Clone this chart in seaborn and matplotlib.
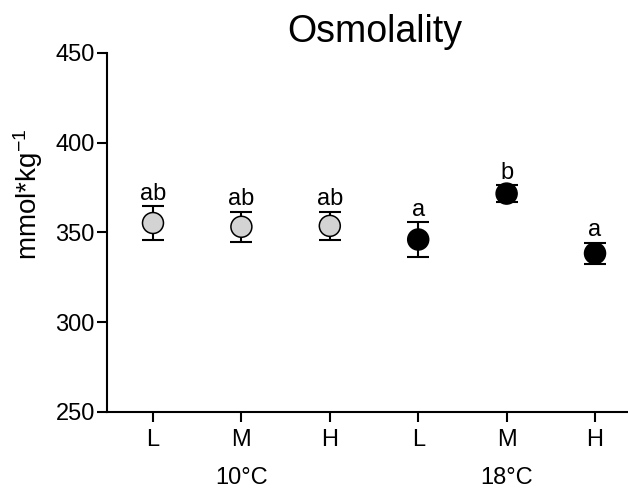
import numpy as np
import pandas as pd
import matplotlib
matplotlib.use("Agg")
import matplotlib.pyplot as plt
import matplotlib.transforms as mtransforms
import seaborn as sns

# ---- data ----
levels = ["L", "M", "H", "L", "M", "H"]
temps = ["10°C", "10°C", "10°C", "18°C", "18°C", "18°C"]
means = [355.2, 353.1, 353.6, 346.0, 371.6, 338.3]
sem = [9.3, 8.4, 8.0, 9.5, 4.8, 6.0]
letters = ["ab", "ab", "ab", "a", "b", "a"]
group_names = ["10°C", "18°C"]
title = "Osmolality"
ylabel = "mmol*kg$^{-1}$"
yticks = [250, 300, 350, 400, 450]

sns.set_theme(style="ticks")
plt.rcParams["font.family"] = ["Liberation Sans", "DejaVu Sans"]
plt.rcParams["mathtext.fontset"] = "custom"
plt.rcParams["mathtext.rm"] = "Liberation Sans"
plt.rcParams["mathtext.it"] = "Liberation Sans"
plt.rcParams["mathtext.default"] = "regular"
plt.rcParams["text.color"] = "black"
plt.rcParams["axes.labelcolor"] = "black"

df = pd.DataFrame({"level": levels, "temp": temps, "mean": means, "sem": sem})
df["pos"] = np.arange(len(df))

fig = plt.figure(figsize=(6.28, 4.88), dpi=100)
ax = fig.add_axes([0.1704, 0.1564, 0.8296, 0.735])

ax.errorbar(df["pos"], df["mean"], yerr=df["sem"], fmt="none", ecolor="black",
            elinewidth=1.5, capsize=8, capthick=1.5, zorder=2)
sns.scatterplot(data=df, x="pos", y="mean", hue="temp",
                palette={"10°C": "#d3d3d3", "18°C": "black"},
                s=228, edgecolor="black", linewidth=1.1, legend=False,
                zorder=3, ax=ax)

for p, m, e, t in zip(df["pos"], df["mean"], df["sem"], letters):
    ax.annotate(t, (p, m + e), xytext=(0, 4.5), textcoords="offset points",
                ha="center", va="baseline", fontsize=17, color="black")

ax.set_xlim(-0.52, 5.373)
ax.set_ylim(250, 450)
ax.set_yticks(yticks)
ax.set_xticks(df["pos"])
ax.set_xticklabels(levels)
ax.set_xlabel("")
ax.set_ylabel(ylabel, fontsize=20, color="black")
ax.yaxis.set_label_coords(-0.119, 0.607)

sns.despine(ax=ax)
for s in ["left", "bottom"]:
    ax.spines[s].set_linewidth(1.5)
    ax.spines[s].set_color("black")
ax.tick_params(axis="both", length=7.2, width=1.5, colors="black",
               labelsize=17, direction="out")
ax.tick_params(axis="y", pad=1.5)
ax.tick_params(axis="x", pad=5.5)

trans = mtransforms.blended_transform_factory(ax.transData, ax.transAxes)
for g in group_names:
    gpos = df.loc[df["temp"] == g, "pos"].mean()
    ax.text(gpos, -0.2016, g, transform=trans, ha="center", va="baseline",
            fontsize=17, color="black")

fig.text(375 / 628, 1 - 42 / 488, title, ha="center", va="baseline",
         fontsize=27, color="black")

fig.savefig("out.png", dpi=100)
